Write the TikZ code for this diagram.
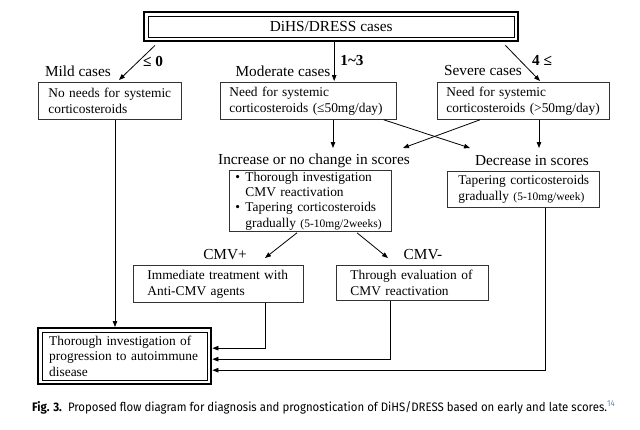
\documentclass[tikz,border=0pt]{standalone}
\usepackage{fontspec}
\setmainfont{Liberation Serif}
\newfontfamily\capfont{Fira Sans}
\usetikzlibrary{arrows.meta,calc}
\newcommand\myBoxFont{\fontsize{13.4}{15.8}\selectfont}
\newcommand\myLblFont{\fontsize{15.3}{18}\selectfont}
\newcommand\mySmallFont{\fontsize{11.5}{13}\selectfont}
\definecolor{refblue}{RGB}{95,140,180}
\begin{document}
\begin{tikzpicture}[x=1pt,y=-1pt,
  box/.style={draw=black!80, line width=0.8pt, anchor=north west, inner ysep=0pt, align=left, font=\myBoxFont},
  dbox/.style={draw=black, line width=2.4pt, anchor=north west, inner ysep=0pt, align=left},
  arr/.style={draw=black, line width=0.8pt, -{Triangle[length=6pt,width=4.5pt]}},
  lbl/.style={font=\myLblFont, inner sep=0pt},
  blbl/.style={font=\myLblFont\bfseries, inner sep=0pt}]
\useasboundingbox (0,0) rectangle (640,429);
\fill[white] (0,0) rectangle (640,429);

% top box
\node[dbox, minimum width=374, minimum height=29, inner xsep=0pt, align=center, font=\myLblFont] (top) at (143,11) {DiHS/DRESS cases};
\draw[line width=0.8pt] ([shift={(5,5)}]top.north west) rectangle ([shift={(-5,-5)}]top.south east);

% labels
\node[lbl] (mildlbl) at (78,71) {Mild cases};
\node[lbl] (modlbl) at (283,71) {Moderate cases};
\node[lbl] (sevlbl) at (483,71) {Severe cases};
\node[blbl] (le0) at (153,61) {≤ 0};
\node[blbl] (onethree) at (352,61) {1\textasciitilde 3};
\node[blbl] (fourle) at (542,60) {4 ≤};

% level 1 boxes
\node[box, minimum width=143, minimum height=37, inner xsep=10pt, text width=123] (mild) at (38,82)
  {\mbox{No needs for systemic}\\\mbox{corticosteroids}};
\node[box, minimum width=176, minimum height=37, inner xsep=9pt, text width=158] (mod) at (220,82)
  {\mbox{Need for systemic}\\\mbox{corticosteroids (≤50mg/day)}};
\node[box, minimum width=172, minimum height=37, inner xsep=9pt, text width=154] (sev) at (437,82)
  {\mbox{Need for systemic}\\\mbox{corticosteroids (>50mg/day)}};

% arrows from top
\draw[arr] ([shift={(12,3)}]top.south west) -- ([shift={(81,-2)}]mild.north west);
\draw[arr] ([shift={(3,0)}]top.south) -- ([shift={(3,-1)}]top.south |- mod.north);
\draw[arr] ([shift={(-14,3)}]top.south east) -- ([shift={(103,-1)}]sev.north west);

% score labels
\node[lbl] (inclbl) at (314,161) {Increase or no change in scores};
\node[lbl] (declbl) at (532,161) {Decrease in scores};
\coordinate (incin) at (333,148);
\coordinate (incin2) at (403,148);
\coordinate (decin) at (470,148);
\coordinate (decin2) at (539,148);

\draw[arr] ([shift={(113,0)}]mod.south west) -- (incin);
\draw[arr] ([shift={(-13,0)}]mod.south east) -- (decin);
\draw[arr] ([shift={(43,0)}]sev.south west) -- (incin2);
\draw[arr] ([shift={(102,0)}]sev.south west) -- (decin2);

% level 2 boxes
\node[box, minimum width=162, minimum height=61, inner xsep=6pt, text width=150, font=\fontsize{13.4}{15.4}\selectfont] (inc) at (229,170)
  {\makebox[10pt][l]{\textbullet}Thorough investigation\\
   \hspace*{10pt}CMV reactivation\\
   \makebox[10pt][l]{\textbullet}Tapering corticosteroids\\
   \hspace*{10pt}\mbox{gradually {\mySmallFont (5-10mg/2weeks)}}};
\node[box, minimum width=152, minimum height=36, inner xsep=11pt, text width=130] (dec) at (447,171)
  {\mbox{Tapering corticosteroids}\\\mbox{gradually {\mySmallFont (5-10mg/week)}}};

% CMV labels
\node[lbl] (cmvplbl) at (225,255) {CMV+};
\node[lbl] (cmvnlbl) at (423,255) {CMV-};

% level 3 boxes
\node[box, minimum width=170, minimum height=37, inner xsep=14pt, text width=142] (cmvp) at (133,265)
  {\mbox{Immediate treatment with}\\\mbox{Anti-CMV agents}};
\node[box, minimum width=152, minimum height=35, inner xsep=14pt, text width=124] (cmvn) at (336,265)
  {\mbox{Through evaluation of}\\\mbox{CMV reactivation}};

\draw[arr] ([shift={(68,1)}]inc.south west) -- ([shift={(132,-7)}]cmvp.north west);
\draw[arr] ([shift={(128,1)}]inc.south west) -- ([shift={(52,-7)}]cmvn.north west);

% final box
\node[dbox, minimum width=173, minimum height=56, inner xsep=11pt, text width=151, font=\fontsize{13.4}{15.6}\selectfont] (final) at (37,327)
  {\mbox{Thorough investigation of}\\\mbox{progression to autoimmune}\\\mbox{disease}};
\draw[line width=0.8pt] ([shift={(5,5)}]final.north west) rectangle ([shift={(-5,-5)}]final.south east);

% arrows into final
\draw[arr] ([shift={(77,0)}]mild.south west) -- ([shift={(77,0)}]mild.south west |- final.north);
\draw[arr] ([shift={(132,0)}]cmvp.south west) |- ([shift={(0,-8)}]final.east);
\draw[arr] ([shift={(54,0)}]cmvn.south west) |- ([shift={(0,3)}]final.east);
\draw[arr] ([shift={(98,0)}]dec.south west) |- ([shift={(0,14)}]final.east);

% caption
\node[anchor=base west, inner sep=0pt] (cap) at (32,411)
  {\resizebox{583pt}{\height}{\capfont\fontsize{12.3}{14}\selectfont\textbf{Fig. 3.}\ \ Proposed flow diagram for diagnosis and prognostication of DiHS/DRESS based on early and late scores.\textsuperscript{\color{refblue}14}}};
\end{tikzpicture}
\end{document}
